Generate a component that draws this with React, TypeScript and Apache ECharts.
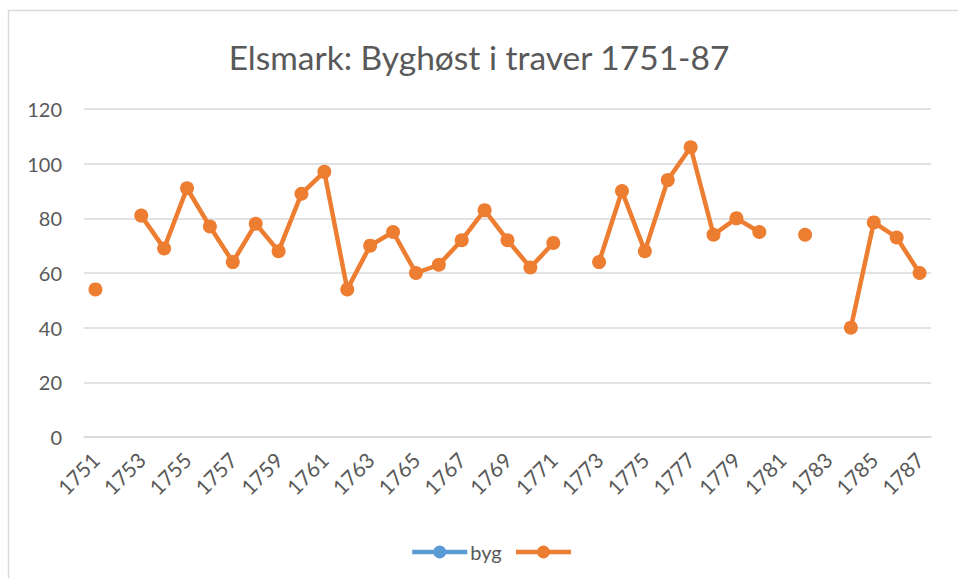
import React, { useEffect, useRef } from "react";
import * as echarts from "echarts";

const titleText = "Elsmark: Byghøst i traver 1751-87";
const years: string[] = [
  "1751","1752","1753","1754","1755","1756","1757","1758","1759","1760",
  "1761","1762","1763","1764","1765","1766","1767","1768","1769","1770",
  "1771","1772","1773","1774","1775","1776","1777","1778","1779","1780",
  "1781","1782","1783","1784","1785","1786","1787",
];
const bygValues: (number | null)[] = years.map(() => null);
const harvestValues: (number | null)[] = [
  54, null, 81, 69, 91, 77, 64, 78, 68, 89,
  97, 54, 70, 75, 60, 63, 72, 83, 72, 62,
  71, null, 64, 90, 68, 94, 106, 74, 80, 75,
  null, 74, null, 40, 78.5, 73, 60,
];
const bygName = "byg";
const harvestName = " ";

export default function App() {
  const ref = useRef<HTMLDivElement>(null);
  useEffect(() => {
    if (!ref.current) return;
    const chart = echarts.init(ref.current, undefined, { renderer: "svg" });
    const font = "Lato, 'Open Sans', sans-serif";
    chart.setOption({
      animation: false,
      backgroundColor: "#ffffff",
      textStyle: { fontFamily: font },
      graphic: [
        {
          type: "rect",
          shape: { x: 8.5, y: 10.5, width: 1000, height: 1000 },
          style: { fill: "none", stroke: "#d9d9d9", lineWidth: 1.5 },
          silent: true,
        },
      ],
      title: {
        text: titleText,
        left: "center",
        top: 35,
        textStyle: { fontFamily: font, fontSize: 33.5, fontWeight: "normal", color: "#595959" },
      },
      legend: {
        left: 405,
        top: 537,
        itemWidth: 55,
        itemHeight: 16,
        itemGap: 12,
        lineStyle: { width: 4.5 },
        textStyle: { fontFamily: font, fontSize: 20, color: "#595959", padding: [0, 0, 0, -2] },
        data: [bygName, harvestName],
      },
      grid: { left: 84, right: 27, top: 109, bottom: 141, containLabel: false },
      xAxis: {
        type: "category",
        data: years,
        boundaryGap: true,
        axisLine: { show: true, lineStyle: { color: "#d9d9d9", width: 1.5 } },
        axisTick: { show: false },
        axisLabel: {
          interval: 1,
          rotate: 45,
          margin: 19,
          fontFamily: font,
          fontSize: 21,
          color: "#595959",
        },
      },
      yAxis: {
        type: "value",
        min: 0,
        max: 120,
        interval: 20,
        axisLine: { show: false },
        axisTick: { show: false },
        splitLine: { lineStyle: { color: "#d9d9d9", width: 1.5 } },
        axisLabel: { margin: 22, fontFamily: font, fontSize: 20, color: "#595959" },
      },
      series: [
        {
          name: bygName,
          type: "line",
          data: bygValues,
          symbol: "circle",
          symbolSize: 14,
          itemStyle: { color: "#5B9BD5" },
          lineStyle: { color: "#5B9BD5", width: 4.5 },
        },
        {
          name: harvestName,
          type: "line",
          data: harvestValues,
          connectNulls: false,
          symbol: "circle",
          symbolSize: 14,
          showAllSymbol: true,
          itemStyle: { color: "#ED7D31" },
          lineStyle: { color: "#ED7D31", width: 4.5 },
        },
      ],
    });
    return () => chart.dispose();
  }, []);
  return (
    <div
      ref={ref}
      style={{ position: "fixed", left: 0, top: 0, width: 958, height: 578 }}
    />
  );
}
